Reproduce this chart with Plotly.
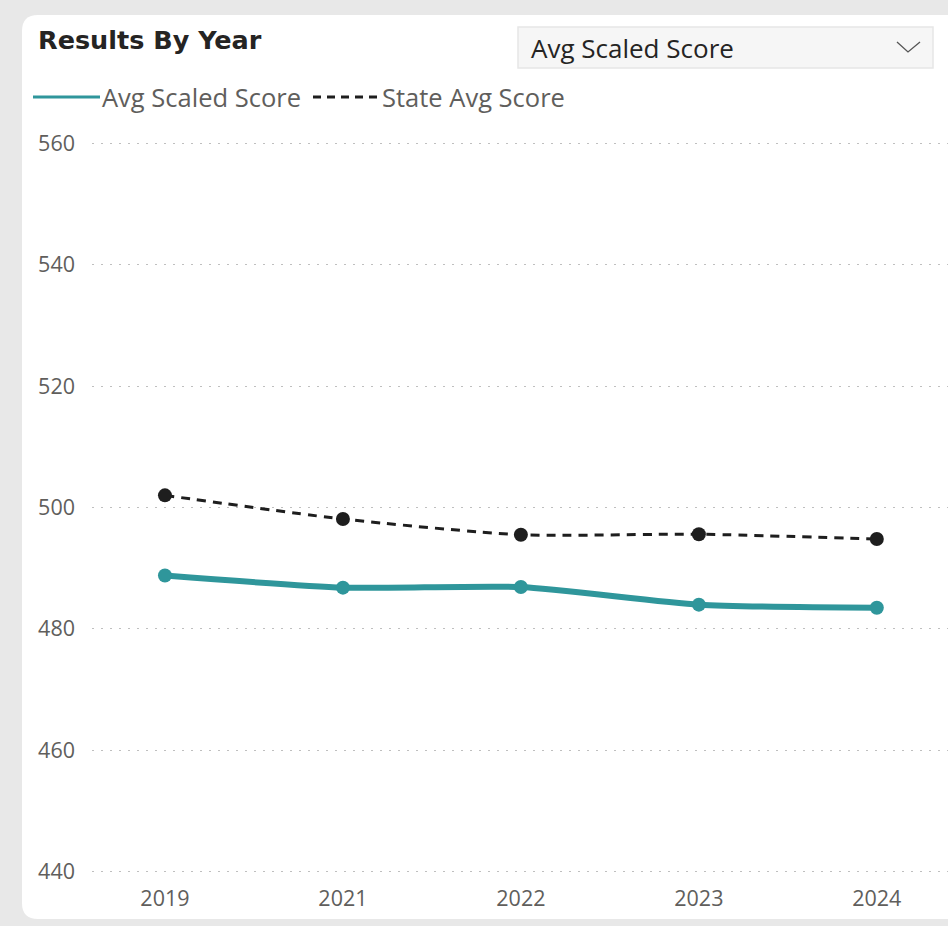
import plotly.graph_objects as go

years = ["2019", "2021", "2022", "2023", "2024"]
avg_scaled = [488.8, 486.8, 486.9, 484.0, 483.5]
state_avg = [502.0, 498.1, 495.5, 495.6, 494.8]
y_ticks = [440, 460, 480, 500, 520, 540, 560]

W, H = 948, 926
L, R, T, B = 92, 0, 142, 53
PW, PH = W - L - R, H - T - B

def px(x):
    return (x - L) / PW

def py(y):
    return (H - B - y) / PH

TEAL = "#2f969b"
DARK = "#1e1e1e"
TXT = "#605e5c"
FONT = "Open Sans"

fig = go.Figure()
fig.add_trace(go.Scatter(
    x=years, y=state_avg, mode="lines+markers", name="State Avg Score",
    line=dict(color=DARK, width=3, dash="9px,7px", shape="spline", smoothing=0.6),
    marker=dict(color=DARK, size=14), showlegend=False))
fig.add_trace(go.Scatter(
    x=years, y=avg_scaled, mode="lines+markers", name="Avg Scaled Score",
    line=dict(color=TEAL, width=6, shape="spline", smoothing=0.6),
    marker=dict(color=TEAL, size=14), showlegend=False))

def rounded_rect(x0, y0, x1, y1, r):
    X0, X1 = px(x0), px(x1)
    Y0, Y1 = py(y0), py(y1)
    rx, ry = r / PW, r / PH
    return (f"M {X0+rx},{Y0} L {X1},{Y0} L {X1},{Y1} L {X0+rx},{Y1} "
            f"Q {X0},{Y1} {X0},{Y1+ry} L {X0},{Y0-ry} Q {X0},{Y0} {X0+rx},{Y0} Z")

shapes = [
    dict(type="path", xref="paper", yref="paper", path=rounded_rect(22, 15, 960, 919, 16),
         fillcolor="white", line=dict(width=0), layer="below"),
    dict(type="rect", xref="paper", yref="paper", x0=px(518), x1=px(933), y0=py(27), y1=py(68),
         fillcolor="#f6f6f6", line=dict(color="#e6e6e6", width=1.5), layer="below"),
    dict(type="path", xref="paper", yref="paper",
         path=f"M {px(897)},{py(42)} L {px(908)},{py(52)} L {px(920)},{py(42)}",
         line=dict(color="#555555", width=1.3)),
    dict(type="line", xref="paper", yref="paper", x0=px(33), x1=px(100), y0=py(97), y1=py(97),
         line=dict(color=TEAL, width=3)),
    dict(type="line", xref="paper", yref="paper", x0=px(313), x1=px(380), y0=py(97), y1=py(97),
         line=dict(color=DARK, width=3, dash="8px,6px")),
]

annotations = [
    dict(text="<b>Results By Year</b>", xref="paper", yref="paper", x=px(36), y=py(40),
         xanchor="left", yanchor="middle", showarrow=False,
         font=dict(family="DejaVu Sans", size=25.5, color="#252423")),
    dict(text="Avg Scaled Score", xref="paper", yref="paper", x=px(529), y=py(48),
         xanchor="left", yanchor="middle", showarrow=False,
         font=dict(family=FONT, size=26, color="#252423")),
    dict(text="Avg Scaled Score", xref="paper", yref="paper", x=px(100), y=py(97),
         xanchor="left", yanchor="middle", showarrow=False,
         font=dict(family=FONT, size=25.5, color=TXT)),
    dict(text="State Avg Score", xref="paper", yref="paper", x=px(380), y=py(97),
         xanchor="left", yanchor="middle", showarrow=False,
         font=dict(family=FONT, size=25.5, color=TXT)),
]

fig.update_layout(
    width=W, height=H,
    margin=dict(l=L, r=R, t=T, b=B, pad=0),
    paper_bgcolor="#e8e8e8", plot_bgcolor="rgba(0,0,0,0)",
    shapes=shapes, annotations=annotations, showlegend=False,
    font=dict(family=FONT, color=TXT),
)
fig.update_xaxes(type="category", range=[-0.41, 4.4], showgrid=False, showline=False,
                 zeroline=False, ticks="", tickfont=dict(size=21.5, color=TXT),
                 ticklabelstandoff=10)
fig.update_yaxes(range=[439.8, 560.2], tickvals=y_ticks, showgrid=True, griddash="2px,7px",
                 gridcolor="#bfbfbf", gridwidth=1, zeroline=False, showline=False,
                 ticks="", tickfont=dict(size=21.5, color=TXT), ticklabelstandoff=16)

fig.write_html("out.html")
